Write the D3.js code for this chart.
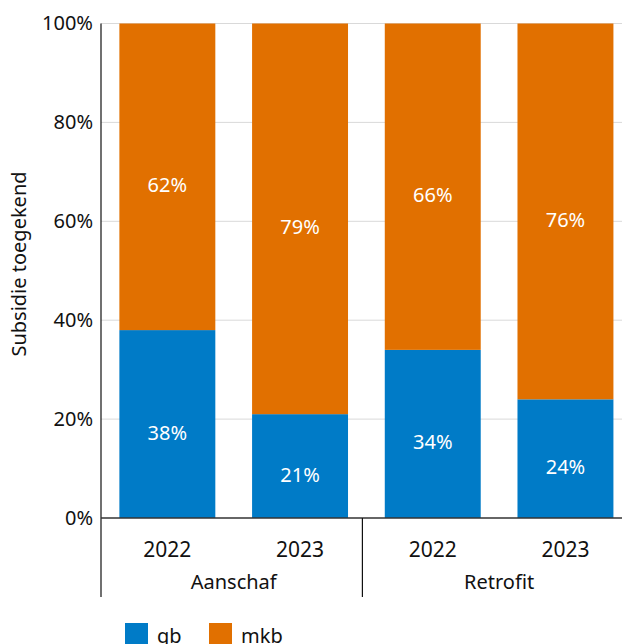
<!DOCTYPE html>
<html>
<head>
<meta charset="utf-8">
<script src="https://cdn.jsdelivr.net/npm/d3@7/dist/d3.min.js"></script>
<style>
  html, body { margin: 0; padding: 0; background: #fff; }
  svg { display: block; font-family: "Noto Sans", "Open Sans", sans-serif; }
</style>
</head>
<body>
<svg id="chart" width="622" height="644"></svg>
<script>
// Share of granted subsidy per company size, by scheme and year
const groups = ["Aanschaf", "Retrofit"];
const years = ["2022", "2023"];
const categories = ["Aanschaf|2022", "Aanschaf|2023", "Retrofit|2022", "Retrofit|2023"];
const gb = [38, 21, 34, 24];
const mkb = [62, 79, 66, 76];
const seriesNames = ["gb", "mkb"];
const seriesColors = ["#007bc7", "#e17000"];
const yTicks = [0, 20, 40, 60, 80, 100];

const svg = d3.select("#chart");
const margin = { left: 101, top: 23.5, bottom: 518 };

const x = d3.scaleBand()
  .domain(categories)
  .range([margin.left, margin.left + 4 * 132.7])
  .paddingInner(0.277)
  .paddingOuter(0.1385);

const y = d3.scaleLinear().domain([0, 100]).range([margin.bottom, margin.top]);

// gridlines
svg.append("g")
  .selectAll("line")
  .data(yTicks.filter(d => d > 0))
  .join("line")
  .attr("x1", margin.left).attr("x2", 622)
  .attr("y1", d => y(d)).attr("y2", d => y(d))
  .attr("stroke", "#d9d9d9").attr("stroke-width", 1);

// stacked bars
const rows = categories.map((c, i) => ({ cat: c, gb: gb[i], mkb: mkb[i] }));
const stack = d3.stack().keys(seriesNames)(rows);
const color = d3.scaleOrdinal().domain(seriesNames).range(seriesColors);

const layers = svg.append("g")
  .selectAll("g")
  .data(stack)
  .join("g")
  .attr("fill", d => color(d.key));

layers.selectAll("rect")
  .data(d => d)
  .join("rect")
  .attr("x", d => x(d.data.cat))
  .attr("width", x.bandwidth())
  .attr("y", d => y(d[1]))
  .attr("height", d => y(d[0]) - y(d[1]));

// value labels
layers.selectAll("text")
  .data(d => d)
  .join("text")
  .attr("x", d => x(d.data.cat) + x.bandwidth() / 2)
  .attr("y", d => (y(d[0]) + y(d[1])) / 2 + 8)
  .attr("text-anchor", "middle")
  .attr("dominant-baseline", "central")
  .attr("fill", "#fff")
  .attr("font-size", 20)
  .text(d => (d[1] - d[0]) + "%");

// y axis
const yAxis = d3.axisLeft(y).tickValues(yTicks).tickSize(0).tickPadding(8)
  .tickFormat(d => d + "%");
const gy = svg.append("g").attr("transform", `translate(${margin.left},0)`).call(yAxis);
gy.select(".domain").remove();
gy.selectAll("text").attr("font-size", 20).attr("fill", "#111")
  .attr("font-family", "'Noto Sans', 'Open Sans', sans-serif");

// axis lines
svg.append("line")
  .attr("x1", margin.left).attr("x2", margin.left)
  .attr("y1", margin.top).attr("y2", 597)
  .attr("stroke", "#111").attr("stroke-width", 1.2);
svg.append("line")
  .attr("x1", margin.left).attr("x2", 622)
  .attr("y1", margin.bottom).attr("y2", margin.bottom)
  .attr("stroke", "#333").attr("stroke-width", 1.5);

// year labels
svg.append("g")
  .selectAll("text")
  .data(categories)
  .join("text")
  .attr("x", d => x(d) + x.bandwidth() / 2)
  .attr("y", 557)
  .attr("text-anchor", "middle")
  .attr("font-size", 21)
  .attr("fill", "#111")
  .text(d => d.split("|")[1]);

// group labels and separators
groups.forEach((g, gi) => {
  const cats = categories.filter(c => c.startsWith(g + "|"));
  const cx = (x(cats[0]) + x(cats[cats.length - 1]) + x.bandwidth()) / 2;
  svg.append("text")
    .attr("x", cx).attr("y", 589)
    .attr("text-anchor", "middle")
    .attr("font-size", 20)
    .attr("fill", "#111")
    .text(g);
  if (gi < groups.length - 1) {
    const next = categories.find(c => c.startsWith(groups[gi + 1] + "|"));
    const sx = (x(cats[cats.length - 1]) + x.bandwidth() + x(next)) / 2 - 4;
    svg.append("line")
      .attr("x1", sx).attr("x2", sx)
      .attr("y1", margin.bottom).attr("y2", 597)
      .attr("stroke", "#111").attr("stroke-width", 1.2);
  }
});

// y axis title
svg.append("text")
  .attr("transform", "translate(26,264) rotate(-90)")
  .attr("text-anchor", "middle")
  .attr("font-size", 20)
  .attr("fill", "#111")
  .text("Subsidie toegekend");

// legend
const legendX = [125, 209];
const legend = svg.append("g");
seriesNames.forEach((s, i) => {
  legend.append("rect")
    .attr("x", legendX[i]).attr("y", 623)
    .attr("width", 23).attr("height", 23)
    .attr("fill", seriesColors[i]);
  legend.append("text")
    .attr("x", legendX[i] + 32).attr("y", 643)
    .attr("font-size", 20)
    .attr("fill", "#111")
    .text(s);
});
</script>
</body>
</html>
